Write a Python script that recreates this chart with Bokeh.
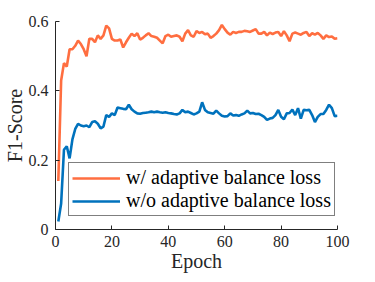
from bokeh.plotting import figure
from bokeh.models import ColumnDataSource, Legend, LegendItem, Range1d, FixedTicker
from bokeh.embed import file_html
from bokeh.resources import INLINE

epochs = list(range(1, 101))
with_abl = [0.14, 0.43, 0.48, 0.47, 0.52, 0.52, 0.53, 0.545, 0.535, 0.52,
            0.50, 0.55, 0.55, 0.54, 0.56, 0.55, 0.56, 0.588, 0.58, 0.55,
            0.545, 0.545, 0.548, 0.525, 0.54, 0.553, 0.565, 0.558, 0.566, 0.548,
            0.553, 0.56, 0.566, 0.558, 0.556, 0.553, 0.545, 0.537, 0.558, 0.562,
            0.556, 0.558, 0.56, 0.556, 0.543, 0.565, 0.575, 0.56, 0.556, 0.572,
            0.567, 0.57, 0.563, 0.565, 0.553, 0.558, 0.565, 0.575, 0.59, 0.578,
            0.568, 0.562, 0.57, 0.567, 0.57, 0.57, 0.573, 0.572, 0.57, 0.574,
            0.578, 0.565, 0.565, 0.57, 0.56, 0.568, 0.564, 0.568, 0.57, 0.558,
            0.572, 0.56, 0.543, 0.565, 0.568, 0.565, 0.562, 0.567, 0.57, 0.558,
            0.566, 0.562, 0.567, 0.56, 0.55, 0.56, 0.555, 0.557, 0.55, 0.552]
without_abl = [0.023, 0.075, 0.23, 0.24, 0.205, 0.26, 0.29, 0.305, 0.30, 0.298,
               0.30, 0.295, 0.31, 0.312, 0.305, 0.292, 0.297, 0.33, 0.325, 0.335,
               0.33, 0.352, 0.35, 0.348, 0.347, 0.36, 0.347, 0.34, 0.335, 0.334,
               0.336, 0.337, 0.338, 0.34, 0.338, 0.34, 0.338, 0.337, 0.338, 0.336,
               0.335, 0.333, 0.332, 0.335, 0.345, 0.338, 0.34, 0.336, 0.332, 0.335,
               0.34, 0.367, 0.345, 0.338, 0.336, 0.334, 0.343, 0.335, 0.328, 0.326,
               0.327, 0.335, 0.329, 0.33, 0.328, 0.332, 0.335, 0.343, 0.335, 0.336,
               0.333, 0.334, 0.33, 0.325, 0.316, 0.32, 0.322, 0.33, 0.345, 0.325,
               0.318, 0.335, 0.336, 0.346, 0.33, 0.35, 0.32, 0.345, 0.344, 0.345,
               0.33, 0.31, 0.325, 0.333, 0.333, 0.345, 0.36, 0.35, 0.327, 0.328]
x_ticks = [0, 20, 40, 60, 80, 100]
y_ticks = [0, 0.2, 0.4, 0.6]
y_tick_labels = {0: "0", 0.2: "0.2", 0.4: "0.4", 0.6: "0.6"}
series_names = ["w/ adaptive balance loss", "w/o adaptive balance loss"]

FONT = "Liberation Serif"
TXT = "#262626"

p = figure(width=367, height=274, output_backend="svg", toolbar_location=None,
           x_range=Range1d(0, 100), y_range=Range1d(0, 0.6),
           min_border_left=55, min_border_right=30, min_border_top=21,
           min_border_bottom=44)
p.outline_line_color = None
p.grid.visible = False
p.background_fill_color = "white"
p.border_fill_color = "white"

src = ColumnDataSource(dict(x=epochs, a=with_abl, b=without_abl))
r1 = p.line("x", "a", source=src, line_color="#FF6E40", line_width=2.6)
r2 = p.line("x", "b", source=src, line_color="#0072BD", line_width=2.6)

for ax in (p.xaxis[0], p.yaxis[0]):
    ax.major_tick_in = 4
    ax.major_tick_out = 0
    ax.minor_tick_line_color = None
    ax.axis_line_color = TXT
    ax.major_tick_line_color = TXT
    ax.major_label_text_font = FONT
    ax.major_label_text_font_size = "16px"
    ax.major_label_text_color = TXT
    ax.axis_label_text_font = FONT
    ax.axis_label_text_font_size = "20px"
    ax.axis_label_text_font_style = "normal"
    ax.axis_label_text_color = TXT

p.xaxis.ticker = FixedTicker(ticks=x_ticks)
p.yaxis.ticker = FixedTicker(ticks=y_ticks)
p.yaxis.major_label_overrides = y_tick_labels
p.xaxis.axis_label = "Epoch"
p.yaxis.axis_label = "F1-Score"
p.xaxis.major_label_standoff = 6
p.yaxis.major_label_standoff = 7
p.xaxis.axis_label_standoff = 0
p.yaxis.axis_label_standoff = 0

legend = Legend(items=[LegendItem(label=series_names[0], renderers=[r1]),
                       LegendItem(label=series_names[1], renderers=[r2])],
                location=(13, 13))
legend.border_line_color = "black"
legend.border_line_width = 1
legend.background_fill_color = "white"
legend.background_fill_alpha = 1
legend.label_text_font = FONT
legend.label_text_font_size = "20px"
legend.label_text_color = "black"
legend.glyph_width = 48
legend.glyph_height = 22
legend.label_height = 22
legend.spacing = 0
legend.padding = 3
legend.margin = 0
legend.label_standoff = 6
p.add_layout(legend, "center")

open("out.html", "w").write(file_html(p, INLINE))
